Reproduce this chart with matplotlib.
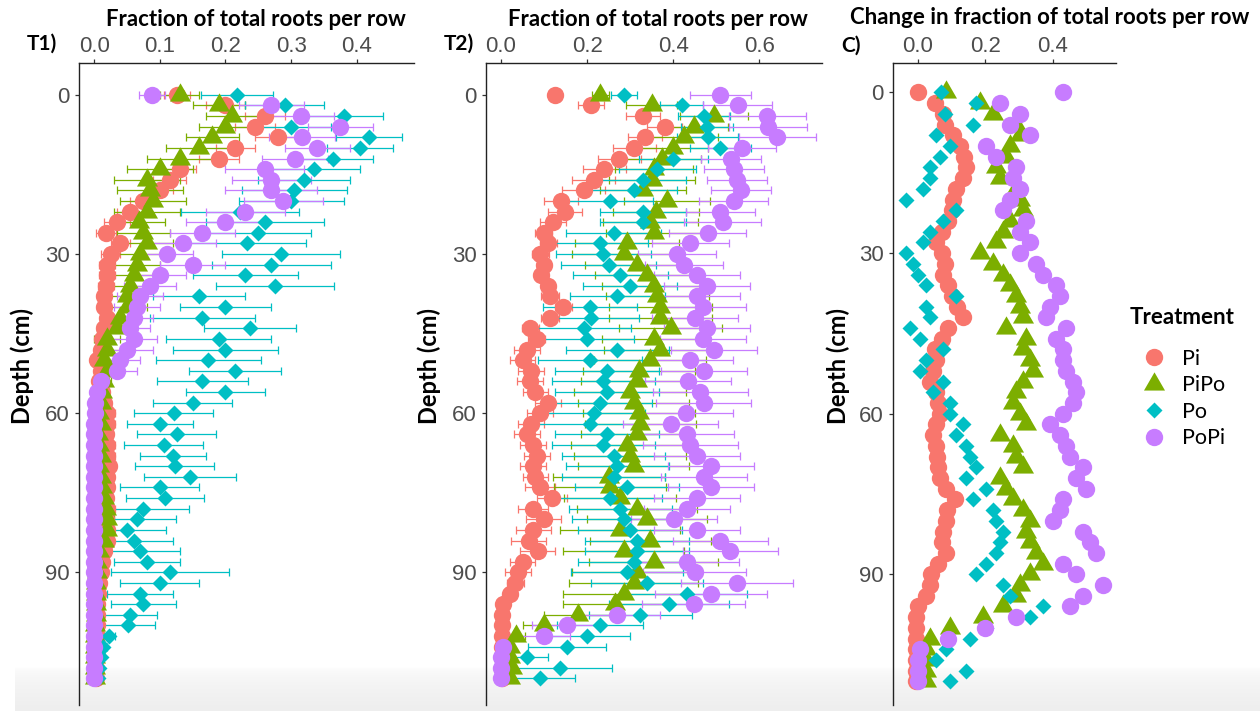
import matplotlib
matplotlib.use("Agg")
import matplotlib.pyplot as plt
import numpy as np
from matplotlib.colors import LinearSegmentedColormap
from matplotlib.path import Path

# depth (cm) of each sampled row
DEPTH = [0, 2, 4, 6, 8, 10, 12, 14, 16, 18, 20, 22, 24, 26, 28, 30, 32, 34, 36, 38,
         40, 42, 44, 46, 48, 50, 52, 54, 56, 58, 60, 62, 64, 66, 68, 70, 72, 74, 76, 78,
         80, 82, 84, 86, 88, 90, 92, 94, 96, 98, 100, 102, 104, 106, 108, 110]

TREATMENTS = ["Pi", "PiPo", "Po", "PoPi"]

# ---- T1) fraction of total roots per row ----
T1_PI = [0.126, 0.20, 0.26, 0.245, 0.28, 0.215, 0.19, 0.13, 0.115, 0.10,
         0.075, 0.055, 0.035, 0.018, 0.04, 0.025, 0.02, 0.02, 0.018, 0.015,
         0.015, 0.02, 0.015, 0.012, 0.01, 0.005, 0.01, 0.008, 0.012, 0.015,
         0.02, 0.02, 0.018, 0.02, 0.02, 0.022, 0.02, 0.02, 0.018, 0.02,
         0.018, 0.02, 0.02, 0.015, 0.012, 0.01, 0.008, 0.006, 0.005, 0.005,
         0.004, 0.004, 0.003, 0.003, 0.003, 0.003]
T1_PI_ERR = [0.02, 0.03, 0.03, 0.03, 0.035, 0.03, 0.03, 0.025, 0.025, 0.02,
             0.02, 0.02, 0.02, 0.015, 0.015, 0.015, 0.012, 0.012, 0.012, 0.01,
             0.01, 0.01, 0.01, 0.01, 0.008, 0.008, 0.008, 0.008, 0.008, 0.01,
             0.012, 0.012, 0.01, 0.012, 0.012, 0.012, 0.01, 0.01, 0.01, 0.012,
             0.012, 0.01, 0.01, 0.008, 0.006, 0.005, 0.005, 0.004, 0.003, 0.003,
             0.002, 0.002, 0.002, 0.002, 0.002, 0.002]
T1_PIPO = [0.13, 0.19, 0.21, 0.20, 0.18, 0.16, 0.13, 0.10, 0.08, 0.085,
           0.09, 0.08, 0.068, 0.075, 0.08, 0.07, 0.065, 0.06, 0.055, 0.05,
           0.05, 0.04, 0.035, 0.02, 0.02, 0.015, 0.02, 0.015, 0.012, 0.01,
           0.008, 0.01, 0.006, 0.008, 0.01, 0.008, 0.01, 0.012, 0.015, 0.018,
           0.02, 0.02, 0.015, 0.008, 0.005, 0.004, 0.003, 0.003, 0.003, 0.003,
           0.002, 0.002, 0.002, 0.002, 0.002, 0.002]
T1_PIPO_ERR = [0.03, 0.04, 0.04, 0.04, 0.04, 0.05, 0.05, 0.05, 0.05, 0.05,
               0.05, 0.05, 0.04, 0.04, 0.04, 0.04, 0.035, 0.035, 0.03, 0.03,
               0.03, 0.03, 0.03, 0.02, 0.02, 0.015, 0.015, 0.01, 0.01, 0.01,
               0.008, 0.008, 0.006, 0.006, 0.008, 0.008, 0.008, 0.01, 0.01, 0.01,
               0.01, 0.01, 0.008, 0.006, 0.004, 0.003, 0.003, 0.002, 0.002, 0.002,
               0.002, 0.002, 0.002, 0.002, 0.002, 0.002]
T1_PO = [0.217, 0.29, 0.38, 0.30, 0.418, 0.405, 0.364, 0.335, 0.32, 0.305,
         0.30, 0.222, 0.26, 0.25, 0.232, 0.285, 0.27, 0.23, 0.275, 0.16,
         0.20, 0.165, 0.237, 0.19, 0.20, 0.174, 0.215, 0.165, 0.20, 0.15,
         0.121, 0.10, 0.126, 0.106, 0.12, 0.123, 0.146, 0.10, 0.108, 0.075,
         0.065, 0.05, 0.06, 0.07, 0.08, 0.116, 0.10, 0.07, 0.075, 0.055,
         0.052, 0.022, 0.014, 0.01, 0.008, 0.006]
T1_PO_ERR = [0.055, 0.06, 0.06, 0.06, 0.05, 0.05, 0.06, 0.07, 0.07, 0.08,
             0.08, 0.09, 0.09, 0.08, 0.09, 0.09, 0.09, 0.08, 0.09, 0.07,
             0.07, 0.08, 0.07, 0.08, 0.08, 0.08, 0.07, 0.07, 0.06, 0.06,
             0.06, 0.05, 0.06, 0.06, 0.05, 0.06, 0.07, 0.06, 0.06, 0.07,
             0.06, 0.06, 0.06, 0.06, 0.05, 0.09, 0.06, 0.05, 0.05, 0.04,
             0.04, 0.01, 0.006, 0.004, 0.003, 0.003]
T1_POPI = [0.088, 0.27, 0.315, 0.375, 0.316, 0.34, 0.306, 0.26, 0.27, 0.27,
           0.288, 0.23, 0.20, 0.165, 0.136, 0.111, 0.15, 0.10, 0.085, 0.07,
           0.065, 0.06, 0.055, 0.06, 0.05, 0.04, 0.035, 0.01, 0.004, 0.002,
           0.001, 0.0, 0.0, 0.0, 0.0, 0.0, 0.0, 0.0, 0.0, 0.0,
           0.0, 0.0, 0.0, 0.0, 0.0, 0.0, 0.0, 0.0, 0.0, 0.0,
           0.0, 0.0, 0.0, 0.0, 0.0, 0.0]
T1_POPI_ERR = [0.02, 0.05, 0.05, 0.05, 0.05, 0.05, 0.05, 0.06, 0.06, 0.07,
               0.06, 0.06, 0.06, 0.05, 0.05, 0.04, 0.05, 0.04, 0.04, 0.035,
               0.035, 0.03, 0.03, 0.035, 0.04, 0.03, 0.03, 0.01, 0.005, 0.003,
               0.002, 0.002, 0.002, 0.002, 0.002, 0.002, 0.002, 0.002, 0.002, 0.002,
               0.002, 0.002, 0.002, 0.002, 0.002, 0.002, 0.002, 0.002, 0.002, 0.002,
               0.002, 0.002, 0.002, 0.002, 0.002, 0.002]

# ---- T2) fraction of total roots per row ----
T2_PI = [0.126, 0.21, 0.33, 0.38, 0.335, 0.31, 0.275, 0.24, 0.215, 0.192,
         0.14, 0.149, 0.12, 0.099, 0.11, 0.091, 0.10, 0.092, 0.11, 0.114,
         0.145, 0.114, 0.068, 0.083, 0.06, 0.05, 0.07, 0.068, 0.08, 0.11,
         0.091, 0.07, 0.06, 0.075, 0.083, 0.075, 0.08, 0.091, 0.118, 0.075,
         0.099, 0.075, 0.064, 0.085, 0.05, 0.04, 0.033, 0.02, 0.005, 0.003,
         0.002, 0.002, 0.002, 0.002, 0.002, 0.002]
T2_PI_ERR = [0.005, 0.03, 0.04, 0.04, 0.04, 0.05, 0.05, 0.05, 0.05, 0.05,
             0.04, 0.04, 0.03, 0.02, 0.02, 0.02, 0.015, 0.015, 0.015, 0.02,
             0.02, 0.02, 0.02, 0.02, 0.03, 0.03, 0.03, 0.03, 0.03, 0.03,
             0.03, 0.03, 0.03, 0.03, 0.03, 0.03, 0.03, 0.035, 0.035, 0.035,
             0.04, 0.04, 0.04, 0.04, 0.03, 0.03, 0.02, 0.015, 0.005, 0.003,
             0.002, 0.002, 0.002, 0.002, 0.002, 0.002]
T2_PIPO = [0.231, 0.35, 0.495, 0.448, 0.425, 0.40, 0.375, 0.355, 0.35, 0.331,
           0.386, 0.36, 0.347, 0.355, 0.293, 0.285, 0.316, 0.339, 0.355, 0.363,
           0.37, 0.37, 0.394, 0.355, 0.37, 0.347, 0.32, 0.316, 0.30, 0.308,
           0.32, 0.324, 0.316, 0.293, 0.30, 0.308, 0.25, 0.254, 0.277, 0.316,
           0.339, 0.277, 0.347, 0.285, 0.355, 0.316, 0.308, 0.285, 0.265, 0.18,
           0.10, 0.035, 0.02, 0.02, 0.025, 0.02]
T2_PIPO_ERR = [0.02, 0.06, 0.08, 0.08, 0.08, 0.08, 0.09, 0.09, 0.10, 0.10,
               0.10, 0.10, 0.11, 0.11, 0.12, 0.12, 0.12, 0.12, 0.12, 0.12,
               0.12, 0.12, 0.12, 0.12, 0.13, 0.13, 0.13, 0.13, 0.13, 0.13,
               0.13, 0.13, 0.13, 0.13, 0.13, 0.13, 0.13, 0.13, 0.13, 0.14,
               0.14, 0.14, 0.14, 0.14, 0.15, 0.15, 0.15, 0.14, 0.12, 0.08,
               0.05, 0.02, 0.01, 0.01, 0.01, 0.01]
T2_PO = [0.285, 0.42, 0.471, 0.479, 0.48, 0.51, 0.40, 0.363, 0.331, 0.308,
         0.254, 0.331, 0.33, 0.262, 0.231, 0.238, 0.25, 0.277, 0.30, 0.27,
         0.207, 0.21, 0.192, 0.20, 0.27, 0.207, 0.246, 0.238, 0.246, 0.231,
         0.215, 0.207, 0.246, 0.238, 0.262, 0.27, 0.262, 0.293, 0.254, 0.277,
         0.285, 0.30, 0.316, 0.316, 0.308, 0.293, 0.339, 0.432, 0.39, 0.324,
         0.231, 0.20, 0.153, 0.06, 0.137, 0.091]
T2_PO_ERR = [0.03, 0.05, 0.06, 0.06, 0.07, 0.07, 0.08, 0.09, 0.10, 0.10,
             0.10, 0.10, 0.10, 0.11, 0.11, 0.11, 0.11, 0.11, 0.11, 0.11,
             0.11, 0.11, 0.11, 0.11, 0.12, 0.12, 0.12, 0.12, 0.12, 0.12,
             0.12, 0.12, 0.12, 0.12, 0.12, 0.12, 0.12, 0.12, 0.12, 0.12,
             0.12, 0.12, 0.12, 0.12, 0.13, 0.13, 0.13, 0.14, 0.14, 0.12,
             0.10, 0.10, 0.09, 0.05, 0.12, 0.08]
T2_POPI = [0.51, 0.55, 0.619, 0.62, 0.642, 0.56, 0.535, 0.541, 0.549, 0.557,
           0.541, 0.51, 0.515, 0.48, 0.44, 0.409, 0.425, 0.456, 0.479, 0.456,
           0.47, 0.45, 0.479, 0.47, 0.495, 0.44, 0.471, 0.435, 0.463, 0.471,
           0.43, 0.394, 0.432, 0.44, 0.456, 0.487, 0.471, 0.487, 0.456, 0.432,
           0.401, 0.456, 0.51, 0.533, 0.432, 0.45, 0.549, 0.487, 0.448, 0.27,
           0.153, 0.10, 0.005, 0.0, 0.0, 0.0]
T2_POPI_ERR = [0.07, 0.08, 0.09, 0.09, 0.09, 0.08, 0.07, 0.07, 0.07, 0.07,
               0.08, 0.08, 0.09, 0.09, 0.09, 0.09, 0.09, 0.10, 0.10, 0.10,
               0.10, 0.10, 0.10, 0.10, 0.10, 0.10, 0.10, 0.10, 0.11, 0.11,
               0.11, 0.11, 0.11, 0.11, 0.10, 0.10, 0.10, 0.10, 0.10, 0.10,
               0.10, 0.10, 0.11, 0.11, 0.12, 0.12, 0.13, 0.13, 0.12, 0.10,
               0.08, 0.06, 0.01, 0.005, 0.005, 0.005]

# ---- C) change in fraction of total roots per row ----
C_PI = [0.0, 0.05, 0.074, 0.08, 0.104, 0.124, 0.135, 0.143, 0.133, 0.114,
        0.104, 0.10, 0.09, 0.07, 0.054, 0.07, 0.08, 0.074, 0.09, 0.10,
        0.115, 0.133, 0.09, 0.07, 0.05, 0.054, 0.044, 0.035, 0.054, 0.06,
        0.065, 0.054, 0.044, 0.054, 0.055, 0.06, 0.064, 0.084, 0.109, 0.085,
        0.084, 0.075, 0.07, 0.084, 0.06, 0.04, 0.035, 0.025, 0.0, -0.005,
        -0.005, -0.005, -0.005, -0.005, -0.005, -0.005]
C_PIPO = [0.084, 0.183, 0.222, 0.291, 0.301, 0.272, 0.262, 0.232, 0.242, 0.291,
          0.301, 0.311, 0.272, 0.252, 0.232, 0.183, 0.222, 0.252, 0.272, 0.291,
          0.301, 0.311, 0.262, 0.321, 0.311, 0.331, 0.341, 0.311, 0.291, 0.281,
          0.301, 0.321, 0.242, 0.281, 0.291, 0.311, 0.242, 0.262, 0.281, 0.311,
          0.331, 0.32, 0.331, 0.351, 0.37, 0.331, 0.301, 0.291, 0.252, 0.193,
          0.094, 0.035, 0.025, 0.025, 0.025, 0.025]
C_PO = [0.069, 0.173, 0.079, 0.163, 0.054, 0.094, 0.064, 0.035, 0.035, 0.015,
        -0.035, 0.114, 0.074, 0.035, 0.015, -0.035, -0.015, 0.0, 0.025, 0.114,
        0.025, 0.035, -0.025, 0.005, 0.074, 0.025, 0.005, 0.074, 0.044, 0.094,
        0.094, 0.133, 0.114, 0.143, 0.153, 0.173, 0.143, 0.202, 0.163, 0.222,
        0.232, 0.252, 0.242, 0.232, 0.202, 0.173, 0.252, 0.272, 0.37, 0.331,
        0.202, 0.153, 0.084, 0.054, 0.143, 0.094]
C_POPI = [0.43, 0.242, 0.301, 0.272, 0.331, 0.202, 0.232, 0.291, 0.281, 0.301,
          0.272, 0.252, 0.321, 0.301, 0.331, 0.301, 0.351, 0.37, 0.41, 0.42,
          0.39, 0.38, 0.44, 0.41, 0.43, 0.43, 0.44, 0.459, 0.469, 0.459,
          0.43, 0.39, 0.42, 0.44, 0.45, 0.489, 0.469, 0.499, 0.43, 0.42,
          0.40, 0.489, 0.509, 0.528, 0.43, 0.469, 0.548, 0.489, 0.45, 0.291,
          0.20, 0.09, 0.005, 0.0, 0.0, 0.0]

# ggplot hue palette and shapes (solid triangle = equilateral, centred on centroid)
COLORS = {"Pi": "#F8766D", "PiPo": "#7CAE00", "Po": "#00BFC4", "PoPi": "#C77CFF"}
TRIANGLE = Path([(-1.0, -0.577), (1.0, -0.577), (0.0, 1.155), (-1.0, -0.577)],
                [Path.MOVETO, Path.LINETO, Path.LINETO, Path.CLOSEPOLY])
MARKERS = {"Pi": ("o", 12.5), "PiPo": (TRIANGLE, 17.5), "Po": ("D", 8.6), "PoPi": ("o", 12.5)}

TICK_COLOR = "#4D4D4D"
TITLE_FONT = "Lato"
TICK_FONT = "Liberation Sans"


def draw_panel(ax, values, errors, xlim, xticks, ylim):
    # error bars first, then all points on top (drawing order as ggplot layers)
    if errors is not None:
        for t in TREATMENTS:
            ax.errorbar(values[t], DEPTH, xerr=errors[t], fmt="none",
                        ecolor=COLORS[t], elinewidth=0.9, capsize=2.6,
                        capthick=0.9, zorder=1)
    for t in TREATMENTS:
        m, ms = MARKERS[t]
        ax.plot(values[t], DEPTH, ls="none", marker=m, ms=ms,
                color=COLORS[t], mec="none", label=t, zorder=2)

    ax.set_xlim(*xlim)
    ax.set_ylim(*ylim)
    ax.set_xticks(xticks)
    ax.set_xticklabels(["%.1f" % v for v in xticks])
    ax.set_yticks([0, 30, 60, 90])
    ax.xaxis.tick_top()
    ax.set_facecolor("none")
    for s in ["bottom", "right"]:
        ax.spines[s].set_visible(False)
    for s in ["top", "left"]:
        ax.spines[s].set_linewidth(1.0)
        ax.spines[s].set_color("#222222")
    ax.tick_params(axis="both", length=3, width=0.9, color="#333333",
                   labelcolor=TICK_COLOR, labelsize=16)
    ax.tick_params(axis="x", pad=1.5)
    ax.tick_params(axis="y", pad=3.5)
    for lab in ax.get_xticklabels() + ax.get_yticklabels():
        lab.set_fontfamily(TICK_FONT)


W, H = 1260.0, 711.0
fig = plt.figure(figsize=(12.6, 7.11), dpi=100)

# faint grey shading along the bottom edge of the screenshot
bg = fig.add_axes([15 / W, 0, 1 - 15 / W, 44 / H], zorder=-10)
shade = LinearSegmentedColormap.from_list("shade", ["#ffffff", "#eeeeee"])
bg.imshow(np.linspace(0, 1, 64).reshape(-1, 1) ** 0.5, aspect="auto", cmap=shade,
          extent=(0, 1, 0, 1), origin="upper")
bg.axis("off")

ax1 = fig.add_axes([79 / W, 1 - 705 / H, (414 - 79) / W, (705 - 63) / H])
ax2 = fig.add_axes([486 / W, 1 - 705 / H, (822 - 486) / W, (705 - 63) / H])
ax3 = fig.add_axes([893 / W, 1 - 705 / H, (1116 - 893) / W, (705 - 63) / H])

draw_panel(ax1,
           {"Pi": T1_PI, "PiPo": T1_PIPO, "Po": T1_PO, "PoPi": T1_POPI},
           {"Pi": T1_PI_ERR, "PiPo": T1_PIPO_ERR, "Po": T1_PO_ERR, "PoPi": T1_POPI_ERR},
           (-0.023, 0.487), [0.0, 0.1, 0.2, 0.3, 0.4], (115.0, -6.0))
draw_panel(ax2,
           {"Pi": T2_PI, "PiPo": T2_PIPO, "Po": T2_PO, "PoPi": T2_POPI},
           {"Pi": T2_PI_ERR, "PiPo": T2_PIPO_ERR, "Po": T2_PO_ERR, "PoPi": T2_POPI_ERR},
           (-0.035, 0.746), [0.0, 0.2, 0.4, 0.6], (115.0, -6.0))
draw_panel(ax3,
           {"Pi": C_PI, "PiPo": C_PIPO, "Po": C_PO, "PoPi": C_POPI},
           None,
           (-0.074, 0.587), [0.0, 0.2, 0.4], (114.4, -5.5))

# titles (x axis labels on top), panel tags and y labels
bold = dict(fontfamily=TITLE_FONT, fontweight="bold", color="black")
fig.text(256 / W, 1 - 19 / H, "Fraction of total roots per row", ha="center", va="center", fontsize=16, **bold)
fig.text(658 / W, 1 - 19 / H, "Fraction of total roots per row", ha="center", va="center", fontsize=16, **bold)
fig.text(1050 / W, 1 - 18 / H, "Change in fraction of total roots per row", ha="center", va="center", fontsize=16, **bold)

fig.text(42 / W, 1 - 44 / H, "T1)", ha="center", va="center", fontsize=15, **bold)
fig.text(459 / W, 1 - 44 / H, "T2)", ha="center", va="center", fontsize=15, **bold)
fig.text(851 / W, 1 - 46 / H, "C)", ha="center", va="center", fontsize=15, **bold)

for xc in [22, 429, 838]:
    fig.text(xc / W, 1 - 366 / H, "Depth (cm)", rotation=90, ha="center", va="center", fontsize=17, **bold)

# legend: title as its own text, keys taken from the C panel
fig.text(1130 / W, 1 - 317 / H, "Treatment", ha="left", va="center", fontsize=16, **bold)
handles, labels = ax3.get_legend_handles_labels()
leg = fig.legend(handles, labels, loc="upper left",
                 bbox_to_anchor=(1118 / W, 1 - 338 / H), frameon=False,
                 prop={"family": TITLE_FONT, "size": 15.5}, borderpad=0,
                 handlelength=2.3, handletextpad=0.15, labelspacing=0.3)

fig.savefig("out.png", dpi=100)
